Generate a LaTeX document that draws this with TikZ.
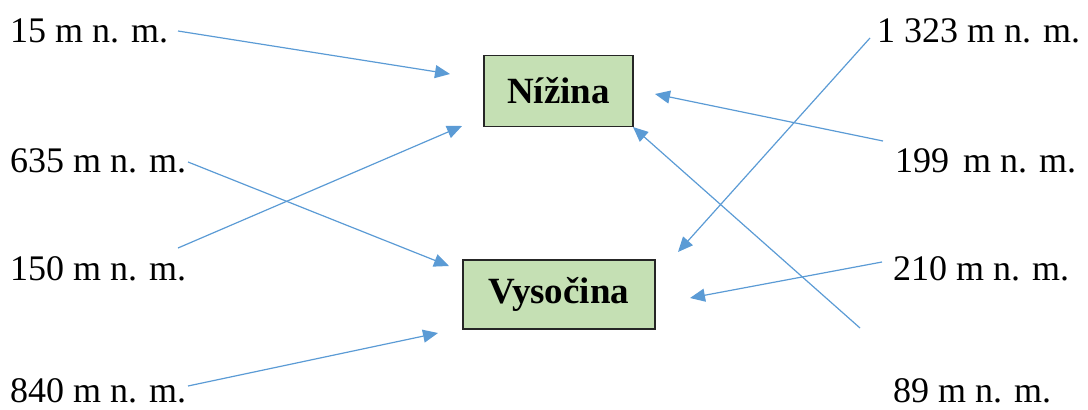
\documentclass[tikz,border=0pt]{standalone}
\usepackage{fontspec}
\setmainfont{Liberation Serif}
\usetikzlibrary{arrows.meta}
\definecolor{arrowblue}{HTML}{5B9BD5}
\definecolor{boxgreen}{HTML}{C5E0B4}
\tikzset{
  lbl/.style={anchor=base west, inner sep=0pt, font=\fontsize{36}{43}\selectfont},
  catbox/.style={draw=black!85, line width=1.6pt, fill=boxgreen, inner sep=0pt,
    font=\fontsize{37}{44}\selectfont\bfseries},
  link/.style={draw=arrowblue, line width=1.2pt,
    -{Triangle[length=15pt,width=13pt]}}
}
\begin{document}
\begin{tikzpicture}[x=1pt,y=-1pt]
\useasboundingbox (0,0) rectangle (1088,410);

% category boxes
\node[catbox, minimum width=149pt, minimum height=71pt] (niz) at (558.5,91) {Nížina};
\node[catbox, minimum width=192pt, minimum height=69pt] (vys) at (559,294.5) {Vysočina};

% altitude labels, left column
\node[lbl] (a15)  at (10,42)  {15 m n. m.};
\node[lbl] (a635) at (10,172) {635 m n. m.};
\node[lbl] (a150) at (10,280) {150 m n. m.};
\node[lbl] (a840) at (10,402) {840 m n. m.};

% altitude labels, right column
\node[lbl] (a1323) at (877,42)  {1 323 m n. m.};
\node[lbl] (a199)  at (895,172) {199\hspace{5pt} m n. m.};
\node[lbl] (a210)  at (893,280) {210 m n. m.};
\node[lbl] (a89)   at (893,402) {89 m n. m.};

% arrow end points
\coordinate (s15)   at (178,31);   \coordinate (t15)   at (450,74);
\coordinate (s635)  at (188,162);  \coordinate (t635)  at (449,266);
\coordinate (s150)  at (178,248);  \coordinate (t150)  at (462,126);
\coordinate (s840)  at (188,386);  \coordinate (t840)  at (438,333);
\coordinate (s1323) at (870,38);   \coordinate (t1323) at (678,252);
\coordinate (s199)  at (883,141);  \coordinate (t199)  at (655,94);
\coordinate (s210)  at (882,262);  \coordinate (t210)  at (690,298);
\coordinate (s89)   at (860,328);  \coordinate (t89)   at (633,127);

\draw[link] (s15) -- (t15);
\draw[link] (s635) -- (t635);
\draw[link] (s150) -- (t150);
\draw[link] (s840) -- (t840);
\draw[link] (s1323) -- (t1323);
\draw[link] (s199) -- (t199);
\draw[link] (s210) -- (t210);
\draw[link] (s89) -- (t89);
\end{tikzpicture}
\end{document}
